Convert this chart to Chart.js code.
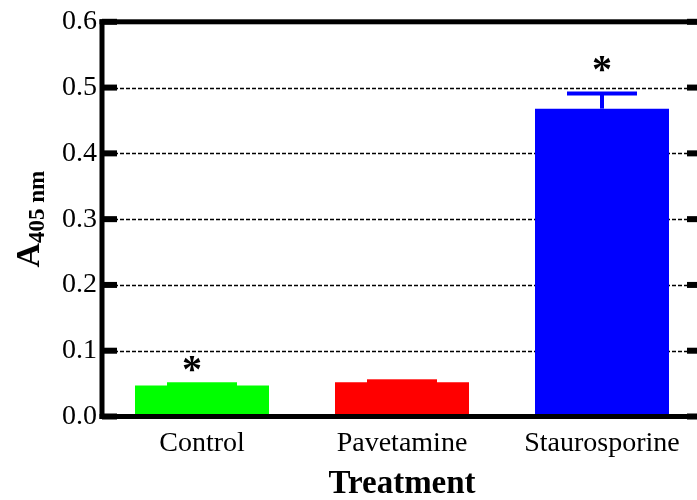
<!DOCTYPE html>
<html>
<head>
<meta charset="utf-8">
<script src="https://cdn.jsdelivr.net/npm/chart.js@4"></script>
<style>
    body { margin: 0; background: #fff; }
    #wrap { width: 697px; height: 500px; overflow: hidden; }
</style>
</head>
<body>
<div id="wrap"><canvas id="chart" width="720" height="500"></canvas></div>
<script>
const categories = ['Control', 'Pavetamine', 'Staurosporine'];
const means = [0.047, 0.052, 0.468];
const errors = [0.002, 0.0015, 0.023];
const barColors = ['#00ff00', '#ff0000', '#0000ff'];
const starLevels = [0.080, null, 0.536];
const yTicks = [0, 0.1, 0.2, 0.3, 0.4, 0.5, 0.6];

const serif = '"Liberation Serif", "Times New Roman", serif';

const framePlugin = {
    id: 'frame',
    beforeDatasetsDraw(chart) {
        const { ctx, chartArea: a, scales: { y } } = chart;
        ctx.save();
        ctx.strokeStyle = '#000';
        ctx.lineWidth = 1.5;
        ctx.setLineDash([4, 2]);
        yTicks.slice(1, -1).forEach(v => {
            const py = Math.round(y.getPixelForValue(v)) + 0.5;
            ctx.beginPath();
            ctx.moveTo(a.left, py);
            ctx.lineTo(a.right, py);
            ctx.stroke();
        });
        ctx.restore();
    },
    afterDatasetsDraw(chart) {
        const { ctx, chartArea: a, scales: { x, y } } = chart;
        ctx.save();

        // error bars in bar colour
        means.forEach((m, i) => {
            const cx = x.getPixelForValue(i);
            const top = y.getPixelForValue(m + errors[i]);
            const base = y.getPixelForValue(m);
            ctx.fillStyle = barColors[i];
            ctx.fillRect(cx - 2, top, 4, base - top);
            ctx.fillRect(cx - 35, top - 2, 70, 4);
        });

        // frame and inward ticks
        ctx.fillStyle = '#000';
        const w = 5;
        ctx.fillRect(a.left - w / 2, a.top - w / 2, w, a.bottom - a.top + w);
        ctx.fillRect(a.right - w / 2, a.top - w / 2, w, a.bottom - a.top + w);
        ctx.fillRect(a.left - w / 2, a.top - w / 2, a.right - a.left + w, w);
        ctx.fillRect(a.left - w / 2, a.bottom - w / 2, a.right - a.left + w, w);
        yTicks.forEach(v => {
            const py = y.getPixelForValue(v);
            ctx.fillRect(a.left, py - 3, 15, 6);
            ctx.fillRect(a.right - 15, py - 3, 15, 6);
        });

        // significance asterisks
        ctx.font = 'bold 40px ' + serif;
        ctx.textAlign = 'center';
        ctx.textBaseline = 'alphabetic';
        const mt = ctx.measureText('*');
        const mid = (mt.actualBoundingBoxAscent - mt.actualBoundingBoxDescent) / 2;
        starLevels.forEach((s, i) => {
            if (s === null) return;
            const shift = i === 0 ? -10 : 0;
            ctx.fillText('*', x.getPixelForValue(i) + shift, y.getPixelForValue(s) + mid);
        });

        // axis titles
        ctx.font = 'bold 33px ' + serif;
        ctx.textAlign = 'center';
        ctx.fillText('Treatment', (a.left + a.right) / 2, 493);

        ctx.translate(39, (a.top + a.bottom) / 2);
        ctx.rotate(-Math.PI / 2);
        ctx.textAlign = 'left';
        ctx.font = 'bold 34px ' + serif;
        const wA = ctx.measureText('A').width;
        ctx.font = 'bold 23px ' + serif;
        const wS = ctx.measureText('405 nm').width;
        const start = -(wA + wS) / 2;
        ctx.font = 'bold 34px ' + serif;
        ctx.fillText('A', start, 0);
        ctx.font = 'bold 23px ' + serif;
        ctx.fillText('405 nm', start + wA, 5);
        ctx.restore();
    }
};

new Chart(document.getElementById('chart'), {
    type: 'bar',
    data: {
        labels: categories,
        datasets: [{
            data: means,
            backgroundColor: barColors,
            borderWidth: 0,
            barPercentage: 0.67,
            categoryPercentage: 1.0
        }]
    },
    options: {
        responsive: false,
        animation: false,
        layout: { padding: { top: 18, right: 18, left: 0, bottom: 0 } },
        plugins: { legend: { display: false }, tooltip: { enabled: false } },
        scales: {
            x: {
                grid: { display: false, drawTicks: false },
                border: { display: false },
                ticks: { color: '#000', font: { family: serif, size: 28 }, padding: 10 },
                afterFit: s => { s.height = 83.5; }
            },
            y: {
                min: 0,
                max: 0.6,
                grid: { display: false, drawTicks: false },
                border: { display: false },
                ticks: {
                    stepSize: 0.1,
                    color: '#000',
                    padding: 5,
                    font: { family: serif, size: 28 },
                    callback: v => v.toFixed(1)
                },
                afterFit: s => { s.width = 102; }
            }
        }
    },
    plugins: [framePlugin]
});
</script>
</body>
</html>
